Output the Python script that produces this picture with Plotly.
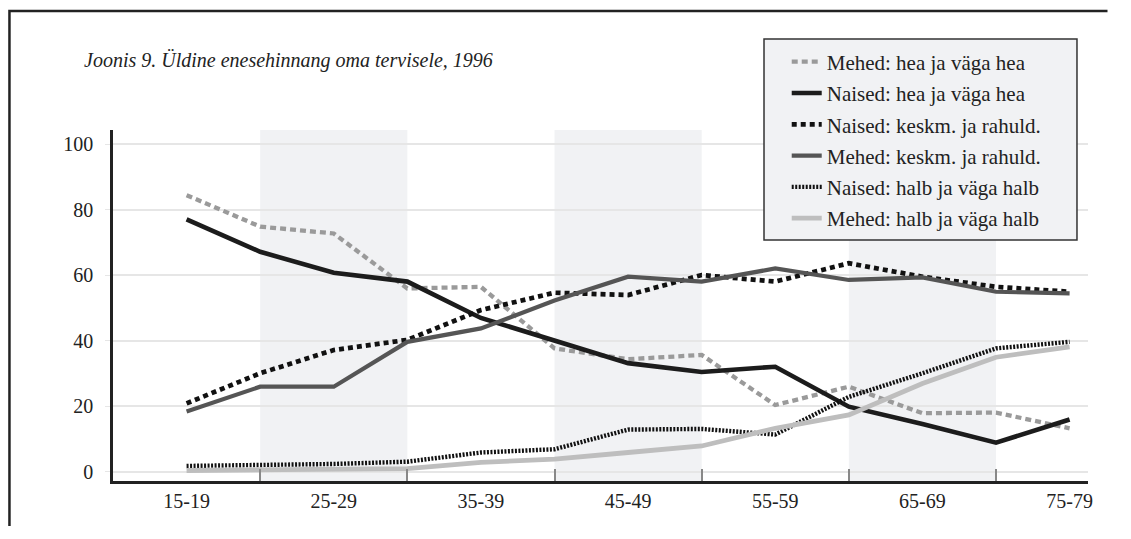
import plotly.graph_objects as go

# age groups (13 categories, every other one labelled)
vanus = ["15-19", "20-24", "25-29", "30-34", "35-39", "40-44", "45-49",
         "50-54", "55-59", "60-64", "65-69", "70-74", "75-79"]

# % of respondents
mehed_hea = [84.4, 74.8, 72.7, 55.9, 56.4, 37.6, 34.3, 35.6, 20.3, 25.9, 17.8, 18.0, 13.2]
naised_hea = [77.0, 67.1, 60.7, 58.0, 46.9, 40.0, 33.1, 30.4, 32.0, 19.8, 14.5, 8.8, 15.9]
naised_keskm = [20.8, 30.0, 37.1, 40.2, 49.3, 54.6, 53.9, 60.0, 58.0, 63.6, 59.5, 56.4, 54.9]
mehed_keskm = [18.3, 25.9, 25.9, 39.6, 43.7, 52.2, 59.5, 58.0, 62.0, 58.5, 59.3, 54.9, 54.4]
naised_halb = [1.7, 2.0, 2.3, 3.0, 5.8, 6.8, 12.8, 13.0, 11.3, 22.8, 30.0, 37.6, 39.6]
mehed_halb = [0.3, 0.5, 0.6, 0.9, 2.8, 3.8, 5.8, 7.8, 13.2, 17.3, 26.9, 34.9, 38.1]

idx = list(range(len(vanus)))
serif = "Liberation Serif, Times New Roman, serif"

series = [
    ("Mehed: hea ja väga hea", mehed_hea, "#9a9a9a", 4.3, "6px,4px"),
    ("Naised: hea ja väga hea", naised_hea, "#1c1c1c", 4.6, "solid"),
    ("Naised: keskm. ja rahuld.", naised_keskm, "#111111", 4.7, "5px,4px"),
    ("Mehed: keskm. ja rahuld.", mehed_keskm, "#555555", 4.2, "solid"),
    ("Naised: halb ja väga halb", naised_halb, "#111111", 4.4, "2px,1.5px"),
    ("Mehed: halb ja väga halb", mehed_halb, "#bebebe", 4.8, "solid"),
]

fig = go.Figure()
for name, vals, col, w, dash in series:
    fig.add_trace(go.Scatter(
        x=idx, y=vals, name=name, mode="lines", legendgroup=name,
        line=dict(color=col, width=w, dash=dash),
    ))

# grey bands between every other pair of unlabelled ticks
shapes = []
for i in range(1, len(vanus) - 1, 4):
    shapes.append(dict(type="rect", xref="x", yref="paper", x0=i, x1=i + 2,
                       y0=0, y1=1, fillcolor="#f1f2f4", line_width=0, layer="below"))
# legend box (drawn as a shape so its size can be fixed)
shapes.append(dict(type="rect", xref="paper", yref="paper", x0=0.6677, x1=0.9887,
                   y0=0.6866, y1=1.2593, fillcolor="#f1f2f4",
                   line=dict(color="#333", width=1.5), layer="above"))
# frame of the figure (top and left), kept inside the figure
shapes.append(dict(type="path", xref="paper", yref="paper",
                   path="M -0.1062,-0.128 L -0.1062,1.339 L 1.02,1.339",
                   line=dict(color="#222", width=2.5)))

fig.update_layout(
    width=1100, height=518,
    margin=dict(l=105, r=20, t=122, b=45),
    paper_bgcolor="white", plot_bgcolor="white",
    font=dict(family=serif, size=20, color="#222"),
    shapes=shapes,
    showlegend=True,
    legend=dict(
        x=0.691, y=1.252, xanchor="left", yanchor="top",
        bgcolor="rgba(0,0,0,0)", borderwidth=0,
        font=dict(family=serif, size=21, color="#222"),
        tracegroupgap=1, itemwidth=30,
    ),
    annotations=[dict(
        text="<i>Joonis 9. Üldine enesehinnang oma tervisele, 1996</i>",
        xref="paper", yref="paper", x=-0.0318, y=1.1966, xanchor="left", yanchor="middle",
        showarrow=False, font=dict(family=serif, size=20, color="#222"),
    )],
)

fig.update_xaxes(
    range=[-1.0, 12.25], automargin=False,
    tickmode="array", tickvals=idx[::2], ticktext=vanus[::2],
    ticks="", showgrid=False, zeroline=False,
    showline=True, linecolor="#222", linewidth=2.5,
    minor=dict(tickmode="array", tickvals=idx[1::2], ticks="inside",
               ticklen=12, tickwidth=1.5, tickcolor="#888", showgrid=False),
    tickfont=dict(size=20),
)
fig.update_yaxes(
    range=[-2.9, 104.3], automargin=False,
    tickvals=[0, 20, 40, 60, 80, 100],
    showgrid=True, gridcolor="#e6e6e6", gridwidth=1.5,
    zeroline=False, showline=True, linecolor="#222", linewidth=2.5,
    ticks="outside", ticklen=5, tickcolor="#e6e6e6", ticklabelstandoff=8,
    tickfont=dict(size=20),
)

fig.write_html("out.html")
